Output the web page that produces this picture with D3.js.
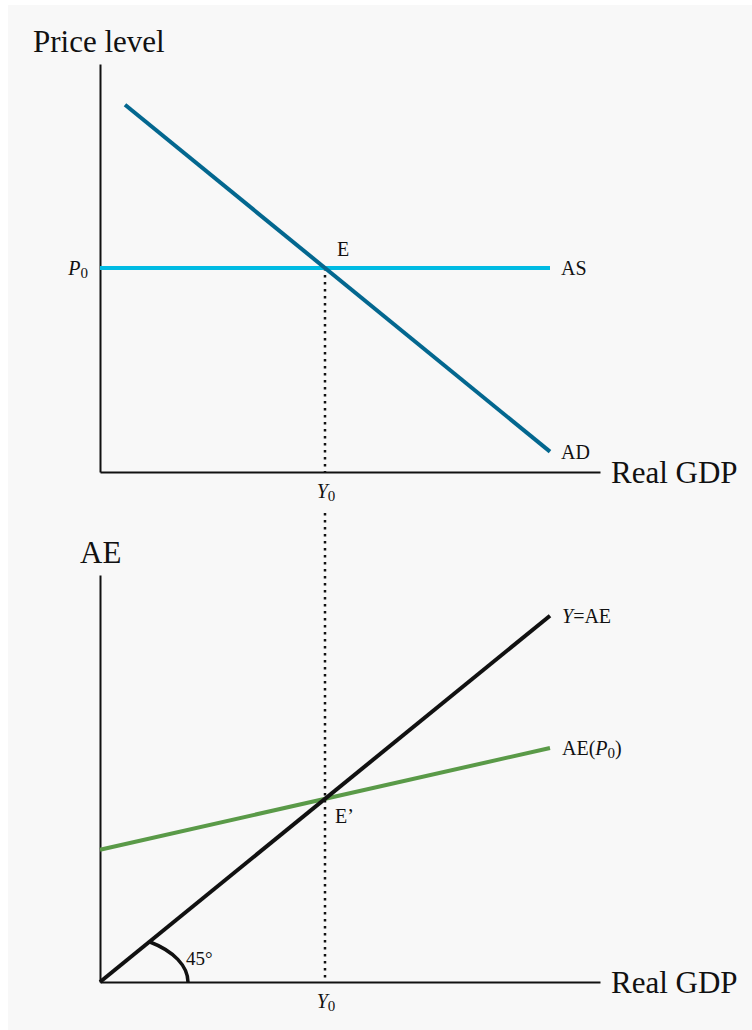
<!DOCTYPE html>
<html>
  <head>
    <title></title>
    <script src="https://cdnjs.cloudflare.com/ajax/libs/d3/7.8.5/d3.min.js"></script>
    <style>
      body { margin: 0; background: #fff; }
      text { font-family: "Liberation Serif", "Times New Roman", serif; fill: #111; }
    </style>
  </head>
  <body>
    <script type="text/javascript">

    // data (both panels use a 0..10 unit space)
    let y0Value = 4.5
    let p0Value = 5
    let adLine = [[0.5, 9], [9, 0.5]]
    let asLine = [[0, 5], [9, 5]]
    let yEqAeLine = [[0, 0], [9, 9]]
    let aeP0Line = [[0, 3.25], [9, 5.75]]
    let topLabels = ["Price level", "Real GDP"]
    let bottomLabels = ["AE", "Real GDP"]

    let width = 752, height = 1030

    let svg = d3.select("body").append("svg")
      .attr("width", width)
      .attr("height", height)

    svg.append("rect")
      .attr("x", 8).attr("y", 5)
      .attr("width", width - 8).attr("height", height - 5)
      .attr("fill", "#f8f8f8")

    let xScale = d3.scaleLinear().domain([0, 10]).range([100, 600])
    let yTop = d3.scaleLinear().domain([0, 10]).range([472, 64])
    let yBot = d3.scaleLinear().domain([0, 10]).range([982, 575])

    let lineTop = d3.line().x(d => xScale(d[0])).y(d => yTop(d[1]))
    let lineBot = d3.line().x(d => xScale(d[0])).y(d => yBot(d[1]))

    function drawAxes(yScale) {
      svg.append("g")
        .attr("transform", "translate(" + xScale(0) + ",0)")
        .call(d3.axisLeft(yScale).tickValues([]).tickSizeOuter(0))
        .select(".domain").attr("stroke", "#111").attr("stroke-width", 2)
      svg.append("g")
        .attr("transform", "translate(0," + yScale(0) + ")")
        .call(d3.axisBottom(xScale).tickValues([]).tickSizeOuter(0))
        .select(".domain").attr("stroke", "#111").attr("stroke-width", 2)
    }

    // ---- top panel ----
    drawAxes(yTop)

    // dotted guide at Y0
    svg.append("line")
      .attr("x1", xScale(y0Value)).attr("x2", xScale(y0Value))
      .attr("y1", yTop(p0Value)).attr("y2", yTop(0))
      .attr("stroke", "#111").attr("stroke-width", 2.5)
      .attr("stroke-dasharray", "2.5,4.5")
    svg.append("line")
      .attr("x1", xScale(y0Value)).attr("x2", xScale(y0Value))
      .attr("y1", 513).attr("y2", yBot(0))
      .attr("stroke", "#111").attr("stroke-width", 2.5)
      .attr("stroke-dasharray", "2.5,4.5")

    svg.append("path").attr("d", lineTop(asLine))
      .attr("fill", "none").attr("stroke", "#00bbe3").attr("stroke-width", 4)
    svg.append("path").attr("d", lineTop(adLine))
      .attr("fill", "none").attr("stroke", "#03678f").attr("stroke-width", 4)

    svg.append("text").attr("x", 33).attr("y", 52)
      .attr("font-size", 31).text(topLabels[0])
    svg.append("text").attr("x", 611).attr("y", 483)
      .attr("font-size", 31).text(topLabels[1])
    svg.append("text").attr("x", 561).attr("y", yTop(asLine[1][1]) + 7)
      .attr("font-size", 20).text("AS")
    svg.append("text").attr("x", 561).attr("y", yTop(adLine[1][1]) + 7)
      .attr("font-size", 20).text("AD")
    svg.append("text").attr("x", xScale(y0Value) + 12).attr("y", yTop(p0Value) - 12)
      .attr("font-size", 20).text("E")

    let p0 = svg.append("text").attr("x", 88).attr("y", yTop(p0Value) + 7)
      .attr("font-size", 20).attr("text-anchor", "end")
    p0.append("tspan").attr("font-style", "italic").text("P")
    p0.append("tspan").attr("font-size", 15).attr("dy", 3).text("0")

    function y0Label(y) {
      let t = svg.append("text").attr("x", xScale(y0Value) + 1).attr("y", y)
        .attr("font-size", 20).attr("text-anchor", "middle")
      t.append("tspan").attr("font-style", "italic").text("Y")
      t.append("tspan").attr("font-size", 15).attr("dy", 3).text("0")
    }
    y0Label(498)

    // ---- bottom panel ----
    drawAxes(yBot)

    svg.append("path").attr("d", lineBot(aeP0Line))
      .attr("fill", "none").attr("stroke", "#5a9a48").attr("stroke-width", 4)
    svg.append("path").attr("d", lineBot(yEqAeLine))
      .attr("fill", "none").attr("stroke", "#111").attr("stroke-width", 4)

    // 45 degree arc
    let ox = xScale(0), oy = yBot(0)
    let rx = 88, ry = 49
    svg.append("path")
      .attr("d", "M" + (ox + 50) + "," + (oy - 40) + " A" + rx + "," + ry + " 0 0 1 " + (ox + rx) + "," + oy)
      .attr("fill", "none").attr("stroke", "#111").attr("stroke-width", 3.5)

    svg.append("text").attr("x", 186).attr("y", 965)
      .attr("font-size", 19).text("45°")

    svg.append("text").attr("x", 80).attr("y", 563)
      .attr("font-size", 31).text(bottomLabels[0])
    svg.append("text").attr("x", 611).attr("y", 993)
      .attr("font-size", 31).text(bottomLabels[1])

    let yae = svg.append("text").attr("x", 562).attr("y", yBot(yEqAeLine[1][1]) + 7)
      .attr("font-size", 20)
    yae.append("tspan").attr("font-style", "italic").text("Y")
    yae.append("tspan").text("=AE")

    let aep = svg.append("text").attr("x", 562).attr("y", yBot(aeP0Line[1][1]) + 7)
      .attr("font-size", 20)
    aep.append("tspan").text("AE(")
    aep.append("tspan").attr("font-style", "italic").text("P")
    aep.append("tspan").attr("font-size", 15).attr("dy", 3).text("0")
    aep.append("tspan").attr("dy", -3).text(")")

    svg.append("text").attr("x", xScale(y0Value) + 10).attr("y", yBot(y0Value) + 24)
      .attr("font-size", 20).text("E’")

    y0Label(1008)

    </script>
  </body>
</html>
